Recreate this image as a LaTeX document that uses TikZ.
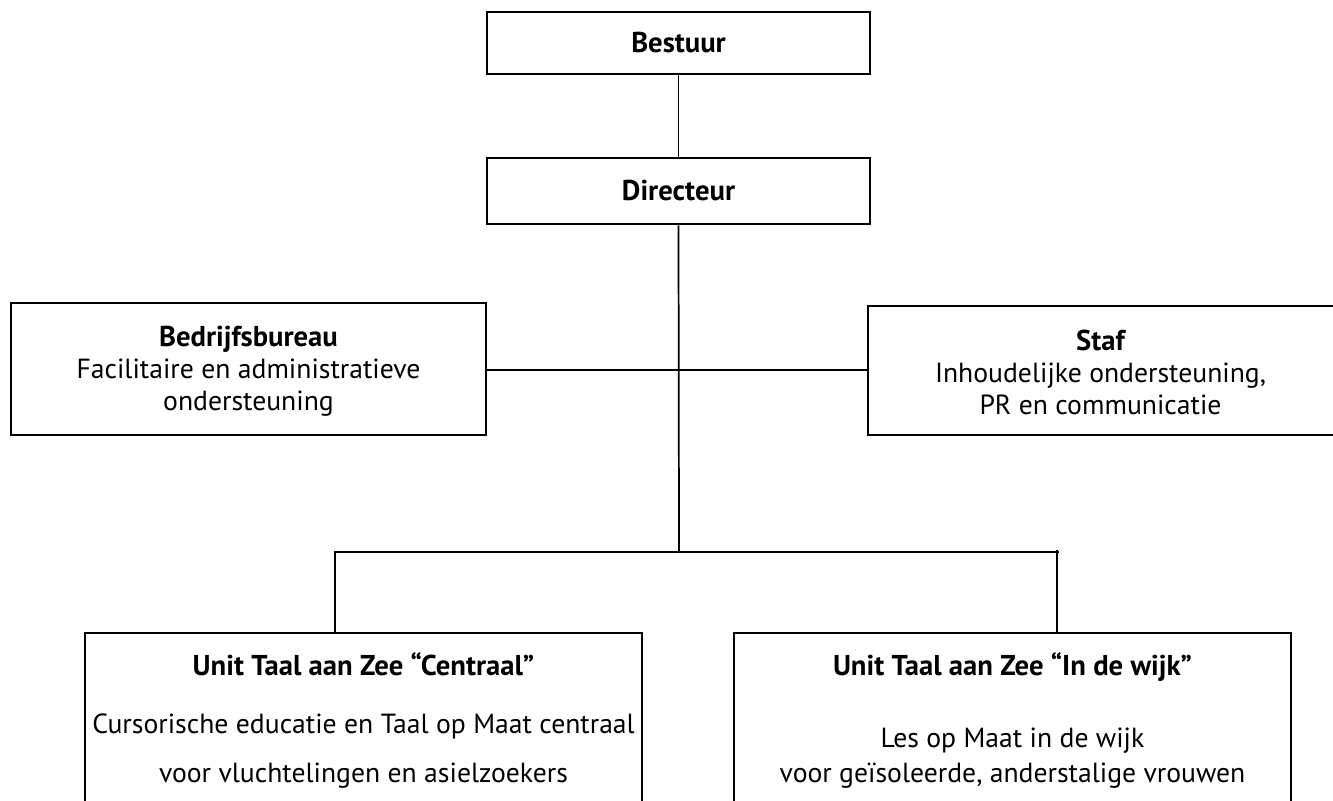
\documentclass[tikz,border=0pt]{standalone}
\usepackage{fontspec}
\setmainfont{PT Sans}
\newcommand{\ttl}[1]{{\fontsize{21.5pt}{24pt}\selectfont\bfseries #1}}
\begin{document}
\begin{tikzpicture}[x=0.75pt,y=-0.75pt,
  box/.style={draw=black, line width=2.2pt, fill=white, inner sep=0pt},
  txt/.style={align=center, inner sep=0pt, font=\fontsize{20.75pt}{24pt}\selectfont},
  conn/.style={draw=black, line width=1.3pt}]
\useasboundingbox (0,0) rectangle (1333,800);
\fill[white] (0,0) rectangle (1333,800);
\clip (0,0) rectangle (1333,800);
\coordinate (trunk) at (679,552);
\coordinate (jl) at (335,552);
\coordinate (jr) at (1057,552);
% boxes
\node[box, minimum width=287.25pt, minimum height=46.5pt] (bestuur) at (678.5,43) {};
\node[txt] (bestuurtext) at (678.5,43) {\ttl{Bestuur}};
\node[box, minimum width=287.25pt, minimum height=49.5pt] (directeur) at (678.5,191) {};
\node[txt] (directeurtext) at (678.5,191) {\ttl{Directeur}};
\node[box, minimum width=356.25pt, minimum height=99pt] (bedrijf) at (248.5,369) {};
\node[txt] (bedrijftext) at (248.5,371) {\ttl{Bedrijfsbureau}\\Facilitaire en administratieve\\ondersteuning};
\node[box, minimum width=350.25pt, minimum height=96.75pt] (staf) at (1101.5,370.5) {};
\node[txt] (staftext) at (1100.5,372) {\ttl{Staf}\\Inhoudelijke ondersteuning,\\PR en communicatie};
\node[box, minimum width=417.75pt, minimum height=150pt] (unitc) at (363.5,733) {};
\node[box, minimum width=417.75pt, minimum height=150pt] (unitw) at (1012.5,733) {};
\node[txt, anchor=north] (unitctext) at (363.5,652) {\ttl{Unit Taal aan Zee “Centraal”}\\[19.5pt]Cursorische educatie en Taal op Maat centraal\\[12.75pt]voor vluchtelingen en asielzoekers};
\node[txt, anchor=north] (unitwtext) at (1012.5,652) {\ttl{Unit Taal aan Zee “In de wijk”}\\[30pt]Les op Maat in de wijk\\[2.25pt]voor geïsoleerde, anderstalige vrouwen};
% connectors
\draw[conn] (bestuur.south) -- (directeur.north);
\draw[conn] (directeur.south) -- (trunk);
\draw[conn] ([yshift=-1pt]bedrijf.east) -- ([yshift=-1pt]bedrijf.east -| staf.west);
\draw[conn] (jl |- unitc.north) -- (jl) -- ([xshift=1.2pt]jr);
\draw[conn] ([yshift=1.2pt]jr) -- (jr |- unitw.north);
\end{tikzpicture}
\end{document}
